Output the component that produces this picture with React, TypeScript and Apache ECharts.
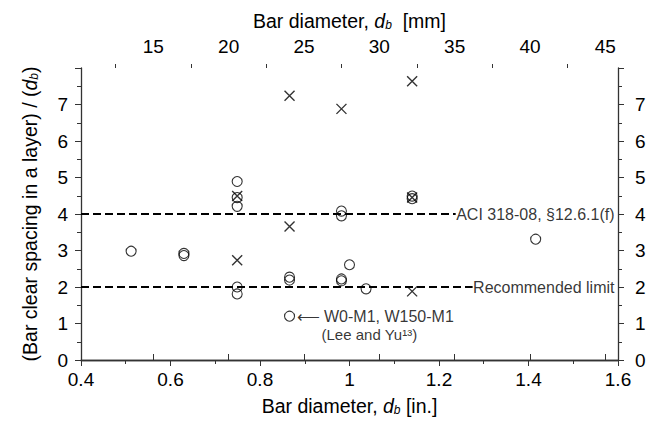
import React, { useEffect, useRef } from "react";
import * as echarts from "echarts";

const FONT = "'Liberation Sans', Arial, Helvetica, sans-serif";

// Axis bounds
const xInMin = 0.4;
const xInMax = 1.6;
const xMmMin = 10.2;
const xMmMax = 45.84;
const mmMajorTicks = [15, 20, 25, 30, 35, 40, 45];
const mmMinorTicks = [12.5, 17.5, 22.5, 27.5, 32.5, 37.5, 42.5];
const yMin = 0;
const yMax = 8;

// Open circles: bar diameter [in.] and spacing ratio
const circleX = [0.512, 0.63, 0.63, 0.749, 0.749, 0.749, 0.749, 0.749, 0.866, 0.866, 0.866, 0.982, 0.982, 0.982, 0.982, 1.0, 1.037, 1.14, 1.14, 1.416];
const circleY = [2.98, 2.92, 2.86, 4.89, 4.45, 4.21, 2.0, 1.81, 2.27, 2.19, 1.2, 4.08, 3.95, 2.22, 2.17, 2.61, 1.95, 4.49, 4.42, 3.31];

// Crosses
const crossX = [0.749, 0.749, 0.866, 0.866, 0.982, 1.14, 1.14, 1.14];
const crossY = [4.49, 2.73, 7.24, 3.66, 6.88, 7.64, 4.45, 1.88];

// Limit lines
const limitValues = [4, 2];
const limitLabels = ["ACI 318-08, §12.6.1(f)", "Recommended limit"];

// Annotated point (index into circle arrays)
const noteIndex = 10;
const noteLine1 = "⟵ W0-M1, W150-M1";
const noteLine2 = "(Lee and Yu¹³)";

const AXIS_COLOR = "#333";
const TICK_FONT = 19;
const TITLE_FONT = 19.5;
const LIMIT_FONT = 16;
const LIMIT_DIST = 3;

const nameRich = {
  i: { fontStyle: "italic", fontSize: TITLE_FONT, fontFamily: FONT, color: "#000" },
  s: { fontStyle: "italic", fontSize: 12, fontFamily: FONT, color: "#000", padding: [9, 0, 0, 0] },
};

function measure(text: string, size: number): number {
  const c = document.createElement("canvas").getContext("2d");
  if (!c) return text.length * size * 0.5;
  c.font = `${size}px 'Liberation Sans', Arial, sans-serif`;
  return c.measureText(text).width;
}

export default function App() {
  const ref = useRef<HTMLDivElement>(null);

  useEffect(() => {
    if (!ref.current) return;
    const chart = echarts.init(ref.current, undefined, { renderer: "svg" });

    const circleData = circleX.map((x, i) => [x, circleY[i]]);
    const crossData = crossX.map((x, i) => [x, crossY[i]]);

    const buildSeries = (lineEnds: number[]) => {
      const series: any[] = [];
      limitValues.forEach((v, i) => {
        series.push({
          type: "line",
          data: [
            [xInMin, v],
            [lineEnds[i], v],
          ],
          showSymbol: false,
          symbol: "none",
          lineStyle: { color: "#000", width: 2, type: [8, 4] },
          z: 1,
          silent: true,
        });
      });
      series.push({
        type: "scatter",
        data: limitValues.map((v, i) => [xInMax, v, limitLabels[i]]),
        symbolSize: 1,
        itemStyle: { color: "transparent" },
        label: {
          show: true,
          position: "left",
          distance: LIMIT_DIST,
          formatter: (p: any) => p.data[2],
          fontSize: LIMIT_FONT,
          fontFamily: FONT,
          color: "#000",
        },
        z: 10,
        silent: true,
      });
      series.push({
        type: "scatter",
        data: circleData,
        symbol: "circle",
        symbolSize: 10,
        itemStyle: { color: "transparent", borderColor: "#000", borderWidth: 1.1 },
        z: 6,
      });
      series.push({
        type: "scatter",
        data: crossData,
        symbol: "path://M0,0L10,10M10,0L0,10",
        symbolSize: 10,
        itemStyle: { color: "transparent", borderColor: "#000", borderWidth: 1.4 },
        z: 6,
      });
      series.push({
        type: "scatter",
        data: [[circleX[noteIndex], circleY[noteIndex]]],
        symbolSize: 0,
        itemStyle: { color: "transparent" },
        label: {
          show: true,
          position: "right",
          distance: 7,
          offset: [0, 9],
          formatter: `{a|${noteLine1}}\n{b|${noteLine2}}`,
          rich: {
            a: { fontSize: 16, lineHeight: 18, fontFamily: FONT, color: "#000" },
            b: { fontSize: 15, lineHeight: 18, fontFamily: FONT, color: "#000", padding: [0, 0, 0, 25] },
          },
        },
        z: 7,
      });
      return series;
    };

    const option: any = {
      animation: false,
      backgroundColor: "#fff",
      textStyle: { fontFamily: FONT },
      grid: { left: 81, right: 33, top: 68, bottom: 60 },
      xAxis: [
        {
          type: "value",
          position: "bottom",
          min: xInMin,
          max: xInMax,
          interval: 0.2,
          name: "Bar diameter, {i|d}{s|b} [in.]",
          nameLocation: "middle",
          nameGap: 35,
          nameTextStyle: { fontSize: TITLE_FONT, color: "#000", fontFamily: FONT, rich: nameRich },
          axisLine: { lineStyle: { color: AXIS_COLOR, width: 1.3 } },
          axisTick: { length: 6, lineStyle: { color: AXIS_COLOR } },
          minorTick: { show: true, splitNumber: 2, length: 4, lineStyle: { color: AXIS_COLOR } },
          axisLabel: {
            fontSize: TICK_FONT,
            color: "#000",
            fontFamily: FONT,
            margin: 10,
            formatter: (v: number) => String(Math.round(v * 10) / 10),
          },
          splitLine: { show: false },
        },
        {
          type: "value",
          position: "top",
          min: xMmMin,
          max: xMmMax,
          name: "Bar diameter, {i|d}{s|b}  [mm]",
          nameLocation: "middle",
          nameGap: 37,
          nameTextStyle: { fontSize: TITLE_FONT, color: "#000", fontFamily: FONT, rich: nameRich },
          axisLine: { lineStyle: { color: AXIS_COLOR, width: 1.3 } },
          axisTick: { length: 6, customValues: mmMajorTicks, lineStyle: { color: AXIS_COLOR } },
          axisLabel: {
            fontSize: TICK_FONT,
            color: "#000",
            fontFamily: FONT,
            margin: 12,
            customValues: mmMajorTicks,
          },
          splitLine: { show: false },
        },
        {
          type: "value",
          position: "top",
          min: xMmMin,
          max: xMmMax,
          axisLine: { show: false },
          axisTick: { length: 4, customValues: mmMinorTicks, lineStyle: { color: AXIS_COLOR } },
          axisLabel: { show: false },
          splitLine: { show: false },
        },
      ],
      yAxis: [
        {
          type: "value",
          position: "left",
          min: yMin,
          max: yMax,
          interval: 1,
          name: "(Bar clear spacing in a layer) / ({i|d}{s|b})",
          nameLocation: "middle",
          nameGap: 41,
          nameTextStyle: { fontSize: TITLE_FONT, color: "#000", fontFamily: FONT, rich: nameRich },
          axisLine: { show: true, lineStyle: { color: AXIS_COLOR, width: 1.3 } },
          axisTick: { show: true, length: 6, lineStyle: { color: AXIS_COLOR } },
          minorTick: { show: true, splitNumber: 2, length: 4, lineStyle: { color: AXIS_COLOR } },
          axisLabel: {
            fontSize: TICK_FONT,
            color: "#000",
            fontFamily: FONT,
            margin: 13,
            formatter: (v: number) => (v === yMax ? "" : String(v)),
          },
          splitLine: { show: false },
        },
        {
          type: "value",
          position: "right",
          min: yMin,
          max: yMax,
          interval: 1,
          axisLine: { show: true, lineStyle: { color: AXIS_COLOR, width: 1.3 } },
          axisTick: { show: true, length: 6, lineStyle: { color: AXIS_COLOR } },
          minorTick: { show: true, splitNumber: 2, length: 4, lineStyle: { color: AXIS_COLOR } },
          axisLabel: {
            fontSize: TICK_FONT,
            color: "#000",
            fontFamily: FONT,
            margin: 17,
            formatter: (v: number) => (v === yMax ? "" : String(v)),
          },
          splitLine: { show: false },
        },
      ],
      series: buildSeries(limitValues.map(() => xInMax)),
    };

    chart.setOption(option);

    // Stop each dashed line where its label begins (pixel -> data via the axis scale)
    const rightPx = chart.convertToPixel({ xAxisIndex: 0 }, xInMax) as number;
    const lineEnds = limitLabels.map((t) => {
      const startPx = rightPx - LIMIT_DIST - measure(t, LIMIT_FONT) - 1;
      return chart.convertFromPixel({ xAxisIndex: 0 }, startPx) as number;
    });
    chart.setOption({ series: buildSeries(lineEnds) });

    return () => chart.dispose();
  }, []);

  return (
    <div
      ref={ref}
      style={{ position: "fixed", left: 0, top: 0, width: 651, height: 421, background: "#fff" }}
    />
  );
}
